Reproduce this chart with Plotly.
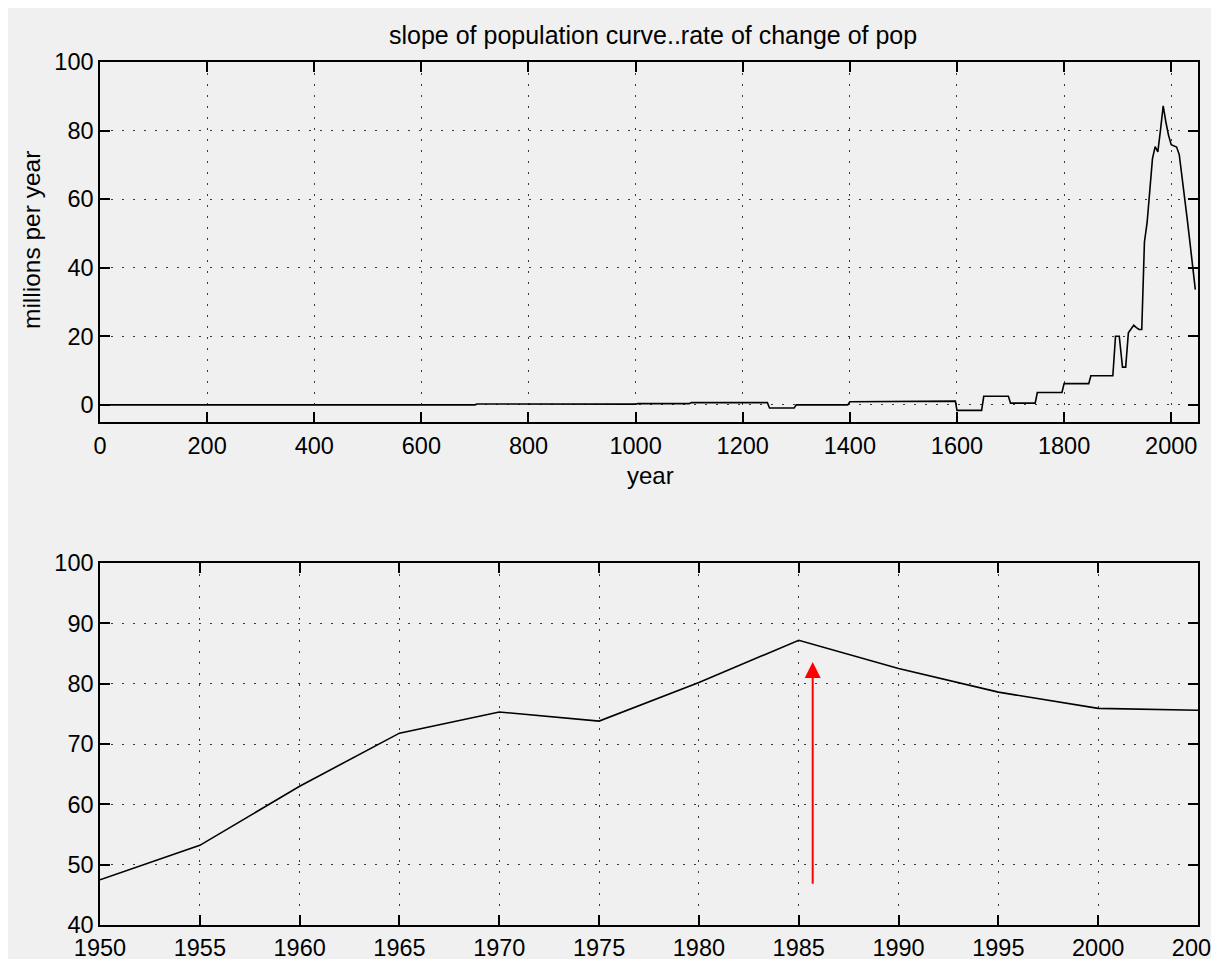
import plotly.graph_objects as go

# ---------------- data ----------------
# slope (millions per year) before 1950
early_years = [0, 200, 204, 500, 504, 700, 704, 800, 804, 900, 904, 1000, 1004, 1100, 1104,
               1246, 1250, 1296, 1300, 1396, 1400, 1496, 1500, 1597, 1600, 1646, 1650,
               1696, 1700, 1746, 1750, 1796, 1800, 1846, 1850, 1891, 1896, 1903, 1909,
               1915, 1920, 1925, 1930, 1935, 1940, 1945]
early_vals = [0.0, 0.0, 0.1, 0.1, 0.0, 0.0, 0.25, 0.25, 0.05, 0.05, 0.2, 0.2, 0.35, 0.35, 0.65,
              0.65, -0.9, -0.9, 0.0, 0.0, 0.9, 0.9, 1.1, 1.1, -1.6, -1.6, 2.5,
              2.5, 0.5, 0.5, 3.6, 3.6, 6.2, 6.2, 8.5, 8.5, 20.0, 20.0, 11.0,
              11.0, 21.0, 22.3, 23.2, 22.5, 22.0, 22.0]

# 1950-2005 (shown in both panels)
modern_years = [1950, 1955, 1960, 1965, 1970, 1975, 1980, 1985, 1990, 1995, 2000, 2005]
modern_vals = [47.5, 53.2, 63.0, 71.8, 75.3, 73.8, 80.2, 87.2, 82.5, 78.6, 75.9, 75.6]

# projection after 2005 (upper panel only)
late_years = [2010, 2015, 2020, 2025, 2030, 2035, 2040, 2045]
late_vals = [75.2, 73.0, 67.0, 60.5, 54.0, 47.3, 40.5, 33.6]

top_x_ticks = [0, 200, 400, 600, 800, 1000, 1200, 1400, 1600, 1800, 2000]
top_y_ticks = [0, 20, 40, 60, 80, 100]
bot_x_ticks = [1950, 1955, 1960, 1965, 1970, 1975, 1980, 1985, 1990, 1995, 2000, 2005]
bot_y_ticks = [40, 50, 60, 70, 80, 90, 100]

arrow_x = 1985.7
arrow_y_start = 46.6
arrow_y_end = 83.6

title_text = "slope of population curve..rate of change of pop"

# ---------------- figure ----------------
W, H = 1219, 959
L, R, T, B = 92, 29, 54, 42
PW, PH = W - L - R, H - T - B

def px_x(px):
    return (px - L) / PW

def px_y(py):
    return (H - B - py) / PH

FONT = "Liberation Sans, Arial, Helvetica, sans-serif"
GRAY = "#f0f0f0"

fig = go.Figure()

fig.add_trace(go.Scatter(
    x=early_years + modern_years + late_years,
    y=early_vals + modern_vals + late_vals,
    mode="lines", line=dict(color="black", width=1.6),
    xaxis="x", yaxis="y", showlegend=False, hoverinfo="x+y"))

fig.add_trace(go.Scatter(
    x=modern_years, y=modern_vals,
    mode="lines", line=dict(color="black", width=1.6),
    xaxis="x2", yaxis="y2", showlegend=False, hoverinfo="x+y"))

axis_common = dict(
    showline=True, linecolor="black", linewidth=1.5, mirror="ticks",
    ticks="inside", ticklen=10, tickwidth=1.5, tickcolor="black",
    showgrid=True, gridcolor="#3a3a3a", gridwidth=1.3, griddash="1.5px,9.5px",
    zeroline=False,
    tickfont=dict(family=FONT, size=23.5, color="black"),
)

top_dom = [px_y(414), 1.0]
bot_dom = [0.0, px_y(555)]

fig.update_layout(
    width=W, height=H,
    margin=dict(l=L, r=R, t=T, b=B, autoexpand=False),
    paper_bgcolor=GRAY, plot_bgcolor=GRAY,
    xaxis=dict(range=[0, 2050], tickvals=top_x_ticks, anchor="y",
               ticklabelstandoff=2, **axis_common),
    yaxis=dict(range=[-5, 100], tickvals=top_y_ticks, domain=top_dom, anchor="x",
               **axis_common),
    xaxis2=dict(range=[1950, 2005], tickvals=bot_x_ticks, anchor="y2",
                ticklabelstandoff=1, **axis_common),
    yaxis2=dict(range=[40, 100], tickvals=bot_y_ticks, domain=bot_dom, anchor="x2",
                **axis_common),
    annotations=[
        dict(text=title_text, xref="paper", yref="paper", x=px_x(645), y=px_y(27),
             showarrow=False, xanchor="center", yanchor="middle",
             font=dict(family=FONT, size=25, color="black")),
        dict(text="year", xref="paper", yref="paper", x=px_x(642), y=px_y(467),
             showarrow=False, xanchor="center", yanchor="middle",
             font=dict(family=FONT, size=24, color="black")),
        dict(text="millions per year", xref="paper", yref="paper", x=px_x(23), y=px_y(232),
             showarrow=False, xanchor="center", yanchor="middle", textangle=-90,
             font=dict(family=FONT, size=24.5, color="black")),
        dict(text="", x=arrow_x, y=arrow_y_end, xref="x2", yref="y2",
             ax=arrow_x, ay=arrow_y_start, axref="x2", ayref="y2",
             showarrow=True, arrowhead=2, arrowsize=1.6, arrowwidth=2,
             arrowcolor="red", standoff=0),
    ],
)

fig.write_html("out.html")
